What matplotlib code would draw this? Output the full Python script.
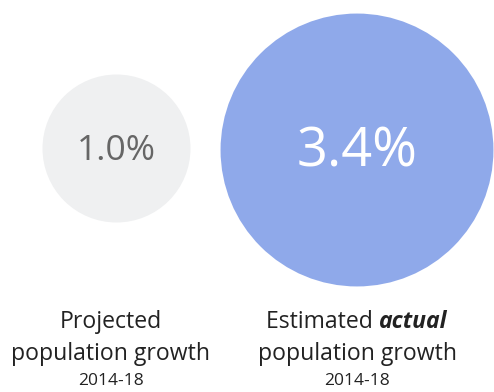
import matplotlib
matplotlib.use("Agg")
import matplotlib.pyplot as plt
from matplotlib.patches import Circle
import numpy as np

# Population growth, 2014-18 (percent)
labels_top = ["Projected", "Estimated actual"]
values = [1.0, 3.4]
value_labels = ["1.0%", "3.4%"]
period = "2014-18"

W, H = 494, 392
fig = plt.figure(figsize=(W / 100, H / 100), dpi=100)
ax = fig.add_axes([0, 0, 1, 1])
ax.set_xlim(0, W)
ax.set_ylim(H, 0)
ax.axis("off")

font = "Open Sans"
centers_x = [116.5, 357]
centers_y = [148.5, 150]
# circle area proportional to the value
base_r = 74.0
radii = [base_r * np.sqrt(v / values[0]) for v in values]
fills = ["#eff0f1", "#8fa9ea"]
text_colors = ["#666666", "#ffffff"]
text_sizes = [25.5, 39]

for cx, cy, r, fc, tc, ts, lab in zip(centers_x, centers_y, radii, fills,
                                      text_colors, text_sizes, value_labels):
    ax.add_patch(Circle((cx, cy), r, facecolor=fc, edgecolor="none"))
    ax.text(cx, cy + 2, lab, ha="center", va="center", color=tc,
            fontsize=ts, family=font)

label_color = "#222222"
cap_size = 16.6
year_size = 12.5
# first caption
ax.text(centers_x[0] - 6, 322, "Projected", ha="center", va="center",
        fontsize=cap_size, family=font, color=label_color)
ax.text(centers_x[0] - 6, 354, "population growth", ha="center", va="center",
        fontsize=cap_size, family=font, color=label_color)
ax.text(centers_x[0] - 6, 381, period, ha="center", va="center",
        fontsize=year_size, family=font, color=label_color)

# second caption with bold italic emphasis
t1 = ax.text(0, 322, "Estimated ", ha="left", va="center", fontsize=cap_size,
             family=font, color=label_color)
t2 = ax.text(0, 322, "actual", ha="left", va="center", fontsize=cap_size,
             family=font, color=label_color, weight="bold", style="italic")
fig.canvas.draw()
r = fig.canvas.get_renderer()
w1 = t1.get_window_extent(r).width
w2 = t2.get_window_extent(r).width
start = centers_x[1] - (w1 + w2) / 2
t1.set_x(start)
t2.set_x(start + w1)
ax.text(centers_x[1], 354, "population growth", ha="center", va="center",
        fontsize=cap_size, family=font, color=label_color)
ax.text(centers_x[1], 381, period, ha="center", va="center",
        fontsize=year_size, family=font, color=label_color)

fig.savefig("out.png", dpi=100, facecolor="white")
